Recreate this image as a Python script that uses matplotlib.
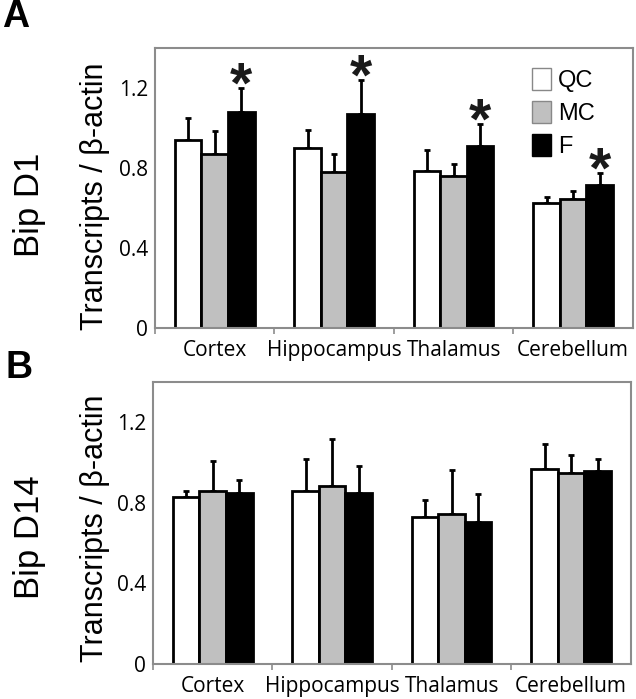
import numpy as np
import matplotlib
matplotlib.use('Agg')
import matplotlib.pyplot as plt
from matplotlib.patches import Patch

# Data
regions = ['Cortex', 'Hippocampus', 'Thalamus', 'Cerebellum']
groups = ['QC', 'MC', 'F']
colors = ['white', '#c0c0c0', 'black']

d1_means = {'QC': [0.94, 0.90, 0.785, 0.625],
            'MC': [0.87, 0.78, 0.76, 0.645],
            'F': [1.08, 1.07, 0.91, 0.715]}
d1_errs = {'QC': [0.11, 0.09, 0.105, 0.03],
           'MC': [0.115, 0.09, 0.06, 0.04],
           'F': [0.12, 0.17, 0.11, 0.06]}
d1_signif = [True, True, True, True]  # F vs controls

d14_means = {'QC': [0.83, 0.86, 0.73, 0.97],
             'MC': [0.86, 0.885, 0.745, 0.95],
             'F': [0.85, 0.85, 0.705, 0.96]}
d14_errs = {'QC': [0.03, 0.16, 0.085, 0.12],
            'MC': [0.15, 0.23, 0.22, 0.09],
            'F': [0.065, 0.135, 0.14, 0.06]}

yticks = [0, 0.4, 0.8, 1.2]
ytick_labels = ['0', '0.4', '0.8', '1.2']

FONT = 'Open Sans'
SANS = 'Liberation Sans'
FRAME = '#8c8c8c'
W = 0.222


def draw_panel(ax, means, errs, signif=None, legend=False):
    x = np.arange(len(regions))
    for j, g in enumerate(groups):
        xs = x + (j - 1) * W
        ax.bar(xs, means[g], width=W, color=colors[j], edgecolor='black',
               linewidth=2, zorder=2)
        ax.errorbar(xs, means[g], yerr=[np.zeros(len(xs)), errs[g]], fmt='none',
                    ecolor='black', elinewidth=2, capsize=2.3, capthick=2, zorder=1)
    if signif is not None:
        for i, s in enumerate(signif):
            if s:
                top = means['F'][i] + errs['F'][i]
                ax.annotate('*', (x[i] + W, top), xytext=(0, -10), textcoords='offset points',
                            ha='center', va='baseline', fontsize=41, fontweight='bold',
                            family=SANS, color='#1a1a1a')
    ax.set_xlim(-0.5, len(regions) - 0.5)
    ax.set_ylim(0, 1.4)
    ax.set_yticks(yticks)
    ax.set_yticklabels(ytick_labels, family=FONT, fontsize=15)
    ax.set_yticks([0], minor=True)
    ax.set_xticks(x)
    ax.set_xticklabels(regions, family=FONT, fontsize=15)
    ax.set_xticks(np.arange(-0.5, len(regions) - 1), minor=True)
    ax.tick_params(axis='x', which='major', length=0, pad=9)
    ax.tick_params(axis='x', which='minor', length=4, color=FRAME, width=1.2)
    ax.tick_params(axis='y', which='major', length=0, pad=5)
    ax.tick_params(axis='y', which='minor', length=3, color=FRAME, width=1.2)
    for sp in ax.spines.values():
        sp.set_color(FRAME)
        sp.set_linewidth(1.5)
    if legend:
        handles = [Patch(facecolor=colors[j], edgecolor='#888888' if j < 2 else 'black',
                         linewidth=1, label=g) for j, g in enumerate(groups)]
        ax.legend(handles=handles, loc='upper right', bbox_to_anchor=(0.94, 0.965),
                  frameon=False, prop={'family': SANS, 'size': 17},
                  handlelength=0.8, handleheight=1.05, handletextpad=0.3,
                  labelspacing=0.38, borderaxespad=0)


fig = plt.figure(figsize=(6.36, 6.99), dpi=100)
ax1 = fig.add_axes([0.2437, 0.5308, 0.7513, 0.3999])
ax2 = fig.add_axes([0.2406, 0.0501, 0.7514, 0.4034])

draw_panel(ax1, d1_means, d1_errs, signif=d1_signif, legend=True)
draw_panel(ax2, d14_means, d14_errs)

fig.text(0.150, 0.719, 'Transcripts / β-actin', rotation=90, ha='center', va='center',
         family=SANS, fontsize=22)
fig.text(0.150, 0.244, 'Transcripts / β-actin', rotation=90, ha='center', va='center',
         family=SANS, fontsize=22)
fig.text(0.0456, 0.707, 'Bip D1', rotation=90, ha='center', va='center',
         family=SANS, fontsize=25)
fig.text(0.0456, 0.231, 'Bip D14', rotation=90, ha='center', va='center',
         family=SANS, fontsize=25)
fig.text(0.025, 0.976, 'A', ha='center', va='center', family=SANS,
         fontweight='bold', fontsize=27)
fig.text(0.030, 0.4735, 'B', ha='center', va='center', family=SANS,
         fontweight='bold', fontsize=27)

fig.savefig('out.png', dpi=100)
